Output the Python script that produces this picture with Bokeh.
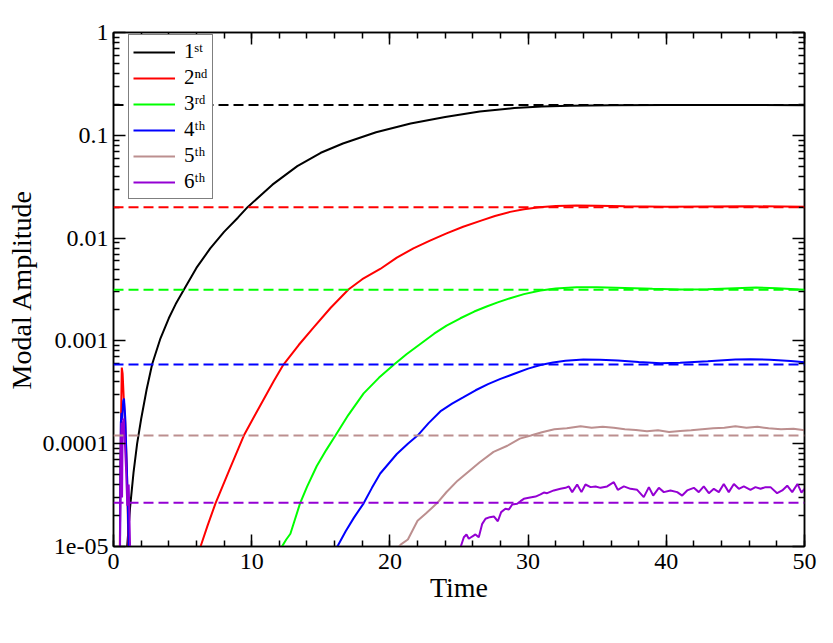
import numpy as np
from bokeh.plotting import figure
from bokeh.models import (Range1d, LinearAxis, LogAxis, FixedTicker, SingleIntervalTicker,
                          Legend, LegendItem, Span, CustomJSTickFormatter)
from bokeh.embed import file_html
from bokeh.resources import INLINE

NaN = float("nan")

# ---- data (time, modal amplitude) ----
time_1 = [0.99, 1.2, 1.45, 1.71, 2.0, 2.4, 2.8, 3.4, 4.0, 4.5, 5.09, 6.0, 7.0, 8.0, 9.0, 9.7,
          11.5, 13.3, 15.0, 16.6, 19.0, 21.5, 24.0, 26.5, 29.0, 31.0, 33.0, 36.0, 40.0, 45.0, 50.0]
amp_1 = [1.0e-5, 2.4e-5, 5.25e-5, 1.0e-4, 1.74e-4, 3.39e-4, 5.96e-4, 1.06e-3, 1.66e-3, 2.28e-3,
         3.14e-3, 5.13e-3, 7.94e-3, 1.15e-2, 1.58e-2, 2.0e-2, 3.31e-2, 5.01e-2, 6.76e-2, 8.32e-2,
         0.107, 0.130, 0.151, 0.170, 0.184, 0.191, 0.194, 0.196, 0.197, 0.197, 0.196]

time_2 = [0.44, 0.52, 0.60, 0.66, 0.74, 0.85, 0.98, 1.12, NaN,
          6.3, 6.8, 7.38, 8.4, 9.43, 10.2, 10.9, 11.6, 12.3, 13.4, 14.5, 15.7, 17.0, 18.0, 19.3,
          20.5, 21.7, 22.9, 24.1, 25.3, 26.6, 27.6, 28.7, 29.7, 30.8, 32.0, 33.5, 35.0, 37.0,
          40.0, 43.0, 46.0, 50.0]
amp_2 = [5e-6, 1.0e-4, 5.5e-4, 4.8e-4, 2.8e-4, 1.6e-4, 5e-5, 5e-6, NaN,
         1.0e-5, 1.585e-5, 2.63e-5, 5.62e-5, 1.20e-4, 1.86e-4, 2.75e-4, 4.07e-4, 5.89e-4,
         9.12e-4, 1.36e-3, 2.09e-3, 3.16e-3, 3.98e-3, 5.01e-3, 6.46e-3, 7.94e-3, 9.44e-3,
         1.11e-2, 1.29e-2, 1.48e-2, 1.64e-2, 1.80e-2, 1.91e-2, 2.00e-2, 2.05e-2, 2.07e-2,
         2.06e-2, 2.04e-2, 2.02e-2, 2.03e-2, 2.04e-2, 2.02e-2]

time_3 = [12.1, 12.5, 12.8, 13.5, 14.0, 14.7, 15.4, 16.06, 17.0, 18.1, 19.2, 20.3, 21.2, 22.2,
          23.2, 24.1, 25.1, 26.1, 27.0, 27.8, 28.7, 29.7, 30.9, 32.0, 33.5, 35.0, 37.0, 39.0,
          41.0, 43.0, 45.0, 46.5, 48.0, 50.0]
amp_3 = [9.55e-6, 1.17e-5, 1.33e-5, 2.63e-5, 3.80e-5, 6.03e-5, 8.71e-5, 1.20e-4, 1.91e-4,
         3.09e-4, 4.37e-4, 5.89e-4, 7.41e-4, 9.33e-4, 1.175e-3, 1.41e-3, 1.66e-3, 1.93e-3,
         2.16e-3, 2.37e-3, 2.60e-3, 2.85e-3, 3.09e-3, 3.24e-3, 3.33e-3, 3.33e-3, 3.27e-3,
         3.21e-3, 3.16e-3, 3.18e-3, 3.26e-3, 3.30e-3, 3.25e-3, 3.14e-3]

time_4 = [0.46, 0.53, 0.58, 0.63, 0.70, 0.76, 0.85, 1.0, 1.15, NaN,
          16.2, 16.8, 17.4, 18.1, 18.7, 19.3, 20.5, 21.3, 22.0, 22.8, 23.7, 24.5, 25.3, 26.2,
          27.1, 28.0, 29.0, 30.0, 30.9, 31.8, 32.7, 34.0, 35.2, 36.5, 38.0, 39.6, 41.0, 43.0,
          45.0, 46.1, 47.5, 49.0, 50.0]
amp_4 = [5e-6, 1.6e-4, 2.0e-4, 1.7e-4, 2.6e-4, 2.75e-4, 1.8e-4, 4e-5, 5e-6, NaN,
         1.0e-5, 1.41e-5, 1.91e-5, 2.63e-5, 3.72e-5, 5.13e-5, 7.94e-5, 1.0e-4, 1.20e-4,
         1.585e-4, 2.09e-4, 2.45e-4, 2.82e-4, 3.31e-4, 3.80e-4, 4.27e-4, 4.79e-4, 5.37e-4,
         5.82e-4, 6.17e-4, 6.41e-4, 6.61e-4, 6.55e-4, 6.46e-4, 6.24e-4, 6.07e-4, 6.14e-4,
         6.34e-4, 6.58e-4, 6.64e-4, 6.56e-4, 6.38e-4, 6.21e-4]

time_5 = [20.3, 20.8, 21.3, 22.0, 22.6, 23.4, 24.1, 24.9, 25.7, 26.5, 27.5, 28.5, 29.4,
          30.2, 31.0, 31.9, 32.8, 33.8, 34.6, 35.4, 36.2, 37.0, 37.8, 38.6, 39.4, 40.2,
          41.0, 41.8, 42.6, 43.4, 44.2, 45.0, 45.8, 46.6, 47.4, 48.3, 49.2, 50.0]
amp_5 = [8.9e-6, 1.05e-5, 1.17e-5, 1.78e-5, 2.09e-5, 2.63e-5, 3.39e-5, 4.37e-5, 5.37e-5,
         6.61e-5, 8.32e-5, 9.55e-5, 1.12e-4, 1.20e-4, 1.29e-4, 1.38e-4, 1.41e-4, 1.48e-4,
         1.43e-4, 1.46e-4, 1.43e-4, 1.38e-4, 1.36e-4, 1.32e-4, 1.35e-4, 1.30e-4, 1.33e-4,
         1.35e-4, 1.38e-4, 1.41e-4, 1.43e-4, 1.48e-4, 1.43e-4, 1.46e-4, 1.41e-4, 1.38e-4,
         1.40e-4, 1.35e-4]

time_6 = [0.45, 0.52, 0.58, 0.62, 0.66, 0.72, 0.80, 0.90, 1.00, 1.10, 1.25, NaN,
          24.95, 25.11, 25.35, 25.54, 25.71, 25.95, 26.19, 26.43, 26.68, 26.92, 27.23, 27.52,
          27.81, 28.05, 28.36, 28.61, 28.85, 29.21, 29.45, 29.69, 30.05, 30.54, 30.90, 31.14,
          31.38, 31.86, 32.34, 32.71, 32.95, 33.19, 33.55, 33.86, 34.15, 34.52, 34.88, 35.24,
          35.72, 36.20, 36.49, 36.93, 37.41, 37.89, 38.37, 38.74, 39.05, 39.46, 39.82, 40.30,
          40.79, 41.15, 41.51, 41.99, 42.35, 42.71, 43.08, 43.44, 43.80, 44.16, 44.52, 44.89,
          45.25, 45.61, 46.09, 46.45, 46.82, 47.18, 47.54, 48.02, 48.39, 48.75, 49.11, 49.49,
          49.78, 50.0]
amp_6 = [5e-6, 8e-5, 1.6e-4, 3e-5, 1.5e-4, 1.76e-4, 1.2e-4, 6e-5, 2.5e-5, 4e-5, 5e-6, NaN,
         7e-6, 9.8e-6, 1.23e-5, 1.31e-5, 1.19e-5, 1.25e-5, 1.31e-5, 1.23e-5, 1.66e-5, 1.86e-5,
         1.93e-5, 1.96e-5, 1.76e-5, 2.16e-5, 2.33e-5, 2.29e-5, 2.56e-5, 2.60e-5, 2.76e-5,
         2.91e-5, 2.98e-5, 3.06e-5, 3.21e-5, 3.35e-5, 3.30e-5, 3.51e-5, 3.64e-5, 3.72e-5,
         3.84e-5, 3.38e-5, 4.01e-5, 3.38e-5, 4.01e-5, 3.78e-5, 3.84e-5, 3.72e-5, 3.84e-5,
         4.23e-5, 3.56e-5, 3.84e-5, 3.64e-5, 3.56e-5, 3.02e-5, 3.78e-5, 3.13e-5, 3.72e-5,
         3.38e-5, 3.51e-5, 3.38e-5, 3.13e-5, 3.51e-5, 3.72e-5, 3.38e-5, 3.84e-5, 3.30e-5,
         3.64e-5, 3.38e-5, 4.06e-5, 3.38e-5, 4.06e-5, 3.64e-5, 3.84e-5, 3.56e-5, 3.78e-5,
         3.64e-5, 3.78e-5, 3.78e-5, 3.30e-5, 3.51e-5, 3.90e-5, 3.38e-5, 4.06e-5, 3.34e-5,
         3.64e-5]

# reference (dashed) amplitude for each mode
ref_amp = [0.197, 0.020, 3.14e-3, 5.9e-4, 1.20e-4, 2.66e-5]

mode_labels = ["1\u02e2\u1d57", "2\u207f\u1d48", "3\u02b3\u1d48", "4\u1d57\u02b0", "5\u1d57\u02b0", "6\u1d57\u02b0"]
mode_colors = ["#000000", "#ff0000", "#00ff00", "#0000ff", "#bc8f8f", "#9400d3"]

y_ticks = [1e-5, 1e-4, 1e-3, 1e-2, 1e-1, 1.0]
y_tick_labels = ["1e-05", "0.0001", "0.001", "0.01", "0.1", "1"]
y_minor = [m * 10.0 ** k for k in range(-5, 0) for m in range(2, 10)]

FONT = "Liberation Serif"

p = figure(frame_width=691, frame_height=514, x_range=Range1d(0, 50), y_range=Range1d(1e-5, 1),
           y_axis_type="log", output_backend="svg", toolbar_location=None,
           min_border_left=113, min_border_right=21, min_border_top=32, min_border_bottom=80,
           x_axis_label="Time", y_axis_label="Modal Amplitude")
p.xgrid.grid_line_color = None
p.ygrid.grid_line_color = None
p.outline_line_color = "black"
p.outline_line_width = 1.5
p.background_fill_color = "white"
p.border_fill_color = "white"

bottom = p.below[0]
left = p.left[0]

series = [(time_1, amp_1), (time_2, amp_2), (time_3, amp_3),
          (time_4, amp_4), (time_5, amp_5), (time_6, amp_6)]

for ra, c in zip(ref_amp, mode_colors):
    p.add_layout(Span(location=ra, dimension="width", line_color=c, line_width=2,
                      line_dash="10 5"))

renderers = []
for (t, a), c in zip(series, mode_colors):
    r = p.line(np.array(t, dtype=float), np.array(a, dtype=float), line_color=c, line_width=2)
    renderers.append(r)

ytick = FixedTicker(ticks=y_ticks, minor_ticks=y_minor)
xtick = SingleIntervalTicker(interval=10, num_minor_ticks=5)

blank = CustomJSTickFormatter(code="return '';")
right = LogAxis(ticker=ytick, formatter=blank)
top = LinearAxis(ticker=xtick, formatter=blank)
p.add_layout(right, "right")
p.add_layout(top, "above")

bottom.ticker = xtick
left.ticker = ytick
left.major_label_overrides = {v: s for v, s in zip(y_ticks, y_tick_labels)}

for ax in [bottom, left, right, top]:
    ax.axis_line_color = "black"
    ax.axis_line_width = 1.5
    ax.major_tick_in = 12
    ax.major_tick_out = 0
    ax.minor_tick_in = 6
    ax.minor_tick_out = 0
    ax.major_tick_line_color = "black"
    ax.minor_tick_line_color = "black"
    ax.major_tick_line_width = 1.5
    ax.minor_tick_line_width = 1.5
    ax.major_label_text_font = FONT
    ax.major_label_text_font_size = "24px"
    ax.major_label_text_color = "black"
    ax.major_label_standoff = 5
    ax.axis_label_text_font = FONT
    ax.axis_label_text_font_size = "28px"
    ax.axis_label_text_font_style = "normal"
    ax.axis_label_text_color = "black"
    ax.axis_label_standoff = 1

left.axis_label_standoff = 3
bottom.major_label_standoff = 7
bottom.axis_label_standoff = 0

for ax in [right, top]:
    ax.major_label_standoff = 0
    ax.major_label_text_font_size = "2px"

legend = Legend(items=[LegendItem(label=l, renderers=[r]) for l, r in zip(mode_labels, renderers)],
                location=(15, 347), padding=4, spacing=1, glyph_width=42, glyph_height=22,
                label_height=22, label_standoff=9, margin=0,
                label_text_font="'Liberation Serif', 'DejaVu Serif', serif",
                label_text_font_size="21px", label_text_color="black",
                border_line_color="black", border_line_width=1.2,
                background_fill_color="white", background_fill_alpha=1.0)
p.add_layout(legend, "center")

open("out.html", "w").write(file_html(p, INLINE))
